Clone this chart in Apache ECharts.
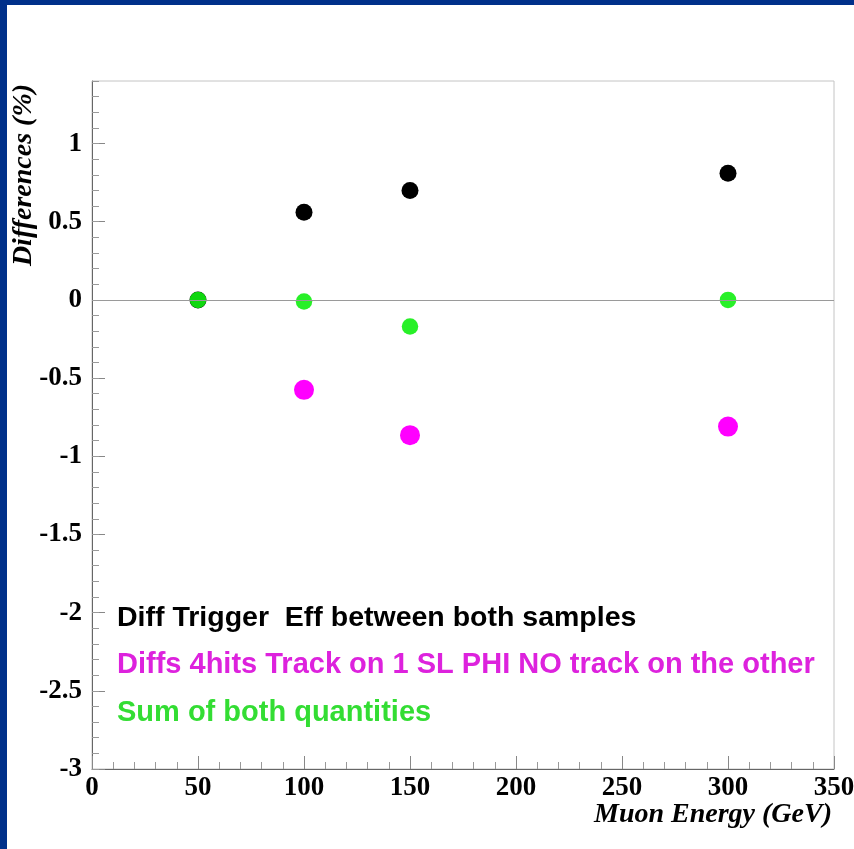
<!DOCTYPE html>
<html>
<head>
<meta charset="utf-8">
<script src="https://cdn.jsdelivr.net/npm/echarts@6/dist/echarts.min.js"></script>
<style>
html,body{margin:0;padding:0;background:#fff;}
#chart{width:854px;height:849px;}
</style>
</head>
<body>
<div id="chart"></div>
<script>
// Data
const energies = [50, 100, 150, 300];
const diffTrigger = [0, 0.56, 0.70, 0.81];
const diffs4hits = [null, -0.575, -0.865, -0.81];
const sumBoth = [0, -0.01, -0.17, 0.0];
const yMajorTicks = [-3, -2.5, -2, -1.5, -1, -0.5, 0, 0.5, 1];
const seriesNames = [
  'Diff Trigger  Eff between both samples',
  'Diffs 4hits Track on 1 SL PHI NO track on the other',
  'Sum of both quantities'
];
const xTitle = 'Muon Energy (GeV)';
const yTitle = 'Differences (%)';

function pairs(xs, ys) {
  const out = [];
  xs.forEach((x, i) => { if (ys[i] !== null) out.push([x, ys[i]]); });
  return out;
}

const chart = echarts.init(document.getElementById('chart'), null, {renderer: 'canvas'});
const labelFont = {fontFamily: '"Liberation Serif","DejaVu Serif",serif', fontWeight: 'bold', fontSize: 27, color: '#000'};
const legendFont = '"Liberation Sans",Arial,sans-serif';

const option = {
  backgroundColor: '#fff',
  animation: false,
  grid: {left: 92, top: 81, right: 20, bottom: 80, outerBoundsMode: 'none', containLabel: false, show: true, borderColor: '#c4c4c4', borderWidth: 1, backgroundColor: 'transparent'},
  xAxis: [{
    type: 'value', min: 0, max: 350, interval: 50,
    axisLine: {show: true, onZero: false, lineStyle: {color: '#666', width: 1}},
    axisTick: {show: true, inside: true, length: 13, lineStyle: {color: '#888'}},
    minorTick: {show: true, splitNumber: 5, length: 7, lineStyle: {color: '#999'}},
    splitLine: {show: false},
    axisLabel: Object.assign({margin: 6}, labelFont)
  }],
  yAxis: [{
    type: 'value', min: -3, max: 1.4,
    axisLine: {show: true, onZero: false, lineStyle: {color: '#666', width: 1}},
    axisTick: {show: true, inside: true, length: 13, customValues: yMajorTicks, lineStyle: {color: '#888'}},
    splitLine: {show: false},
    axisLabel: Object.assign({margin: 10, customValues: yMajorTicks}, labelFont)
  }, {
    type: 'value', min: -3, max: 1.4, interval: 0.1, position: 'left',
    axisLine: {show: false, onZero: false},
    axisTick: {show: true, inside: true, length: 7, lineStyle: {color: '#999'}},
    splitLine: {show: false},
    axisLabel: {show: false}
  }],
  series: [{
    name: seriesNames[0], type: 'scatter', symbol: 'circle', symbolSize: 17,
    itemStyle: {color: '#000', opacity: 1},
    data: pairs(energies, diffTrigger),
    markLine: {
      silent: true, symbol: ['none', 'none'], label: {show: false},
      lineStyle: {color: '#9a9a9a', type: 'solid', width: 1},
      data: [{yAxis: 0}]
    }
  }, {
    name: seriesNames[1], type: 'scatter', symbol: 'circle', symbolSize: 20,
    itemStyle: {color: '#ff00ff', opacity: 1},
    data: pairs(energies, diffs4hits)
  }, {
    name: seriesNames[2], type: 'scatter', symbol: 'circle', symbolSize: 16.5,
    itemStyle: {color: '#11ee11', opacity: 0.9},
    data: pairs(energies, sumBoth)
  }],
  graphic: [
    {type: 'rect', left: 0, top: 0, shape: {width: 854, height: 5}, style: {fill: '#00308a'}, z: 100},
    {type: 'rect', left: 0, top: 0, shape: {width: 7, height: 849}, style: {fill: '#00308a'}, z: 100},
    {type: 'text', x: 832, y: 815, style: {text: xTitle, align: 'right', verticalAlign: 'middle', font: 'italic bold 28px "Liberation Serif","DejaVu Serif",serif', fill: '#000'}},
    {type: 'text', x: 24, y: 175, rotation: Math.PI / 2, style: {text: yTitle, align: 'center', verticalAlign: 'middle', font: 'italic bold 28px "Liberation Serif","DejaVu Serif",serif', fill: '#000'}},
    {type: 'text', x: 117, y: 618, style: {text: seriesNames[0], align: 'left', verticalAlign: 'middle', font: 'bold 28.5px ' + legendFont, fill: '#000'}},
    {type: 'text', x: 117, y: 665, style: {text: seriesNames[1], align: 'left', verticalAlign: 'middle', font: 'bold 29px ' + legendFont, fill: '#dd22dd'}},
    {type: 'text', x: 117, y: 713, style: {text: seriesNames[2], align: 'left', verticalAlign: 'middle', font: 'bold 29px ' + legendFont, fill: '#33dd33'}}
  ]
};
chart.setOption(option);
</script>
</body>
</html>
